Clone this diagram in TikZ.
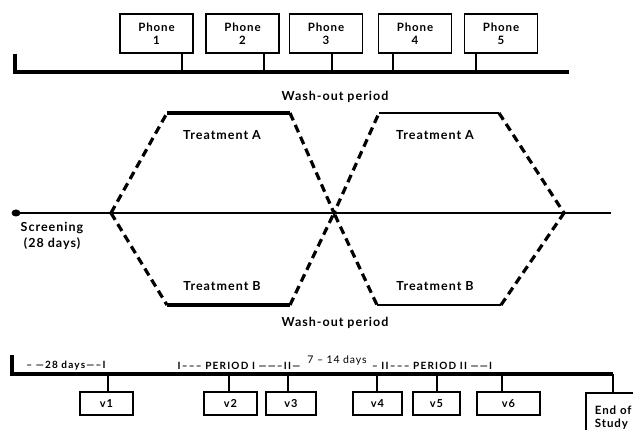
\documentclass[tikz,border=0pt]{standalone}
\usepackage{fontspec}
\setmainfont{Lato}[LetterSpace=8]
\newfontfamily\wideface{Lato}[LetterSpace=12]
\usetikzlibrary{positioning}

\begin{document}
\begin{tikzpicture}[x=1pt, y=-1pt,
    phone/.style={draw, line width=1.4pt, minimum width=73pt, minimum height=39pt,
        inner sep=0pt, align=center, font=\bfseries\fontsize{11.5}{13}\selectfont},
    visit/.style={draw, line width=1.8pt, minimum height=23pt, inner sep=0pt,
        font=\bfseries\fontsize{11}{11}\selectfont},
    stem/.style={line width=2.6pt},
    base/.style={line width=3.4pt},
    arm/.style={line width=3.2pt, dash pattern=on 8pt off 5pt},
    lbl/.style={font=\bfseries\fontsize{12.5}{16}\selectfont, align=center},
    tick/.style={font=\wideface\bfseries\fontsize{10}{10}\selectfont, inner sep=0pt}]
    \clip (0,0) rectangle (633,430);

    % Phone calls
    \draw[base] (15,54) -- (15,72) -- (569,72);
    \foreach \i/\cx/\sx in {1/156.5/182, 2/242.5/264, 3/326/332, 4/415/393, 5/501/476} {
        \node[phone] (ph\i) at (\cx,33.5) {Phone\\\i};
        \coordinate (ps\i) at (\sx,72);
        \draw[stem] (ph\i.south -| ps\i) -- (ps\i);
    }

    % Time line and crossover arms
    \coordinate (scr) at (16,213);
    \coordinate (xa) at (111,213);
    \coordinate (xb) at (334,213);
    \coordinate (xc) at (564,213);
    \draw[line width=1.7pt] (scr) -- (611,213);
    \fill (scr) ellipse (4.5 and 3.5);
    \node[lbl] (screen) at (52,236) {Screening\\(28 days)};

    \draw[arm] (xa) -- (167,113);
    \draw[arm] (290,113) -- (xb) -- (379,113);
    \draw[arm] (499,113) -- (xc);
    \draw[arm] (xa) -- (167,305);
    \draw[arm] (290,305) -- (xb) -- (377,305);
    \draw[arm] (501,305) -- (xc);
    \draw[line width=3.2pt] (167,113) -- (290,113);
    \draw[line width=3.2pt] (167,305) -- (290,305);
    \draw[line width=1.7pt] (379,113) -- (499,113);
    \draw[line width=1.7pt] (377,305) -- (501,305);

    \node[lbl] (ta1) at (222,135) {Treatment A};
    \node[lbl] (ta2) at (435,135) {Treatment A};
    \node[lbl] (tb1) at (222,286) {Treatment B};
    \node[lbl] (tb2) at (435,286) {Treatment B};
    \node[lbl] (wo1) at (335,97) {Wash-out period};
    \node[lbl] (wo2) at (335,323) {Wash-out period};

    % Visits
    \draw[base] (12,355) -- (12,374) -- (613,374);
    \foreach \v/\cx/\w/\sx in {1/106.5/53/108, 2/230.5/53/229, 3/291/50/288,
                               4/377.5/49/377, 5/436.5/47/437, 6/508.5/63/502} {
        \node[visit, minimum width=\w pt] (v\v) at (\cx,403.5) {v\v};
        \coordinate (vs\v) at (\sx,374);
        \draw[stem] (vs\v) -- (v\v.north -| vs\v);
    }
    \node[draw, line width=1.8pt, anchor=north west, align=left, inner xsep=9pt,
        inner ysep=8pt, text width=60pt, minimum height=50pt,
        font=\bfseries\fontsize{11.5}{13}\selectfont]
        (end) at (585,392) {End of\\Study};
    \coordinate (es) at (613,374);
    \draw[stem] (es) -- (end.north -| es);

    \node[tick] (d28) at (66,366) {– —28 days—–I};
    \node[tick] (p1) at (239,366) {I––– PERIOD I ——–II—};
    \node[font=\fontsize{10.5}{10}\selectfont, inner sep=0pt] (wash) at (337,361) {7 – 14 days};
    \node[tick] (p2) at (432,366) {– II––– PERIOD II ——I};
\end{tikzpicture}
\end{document}
